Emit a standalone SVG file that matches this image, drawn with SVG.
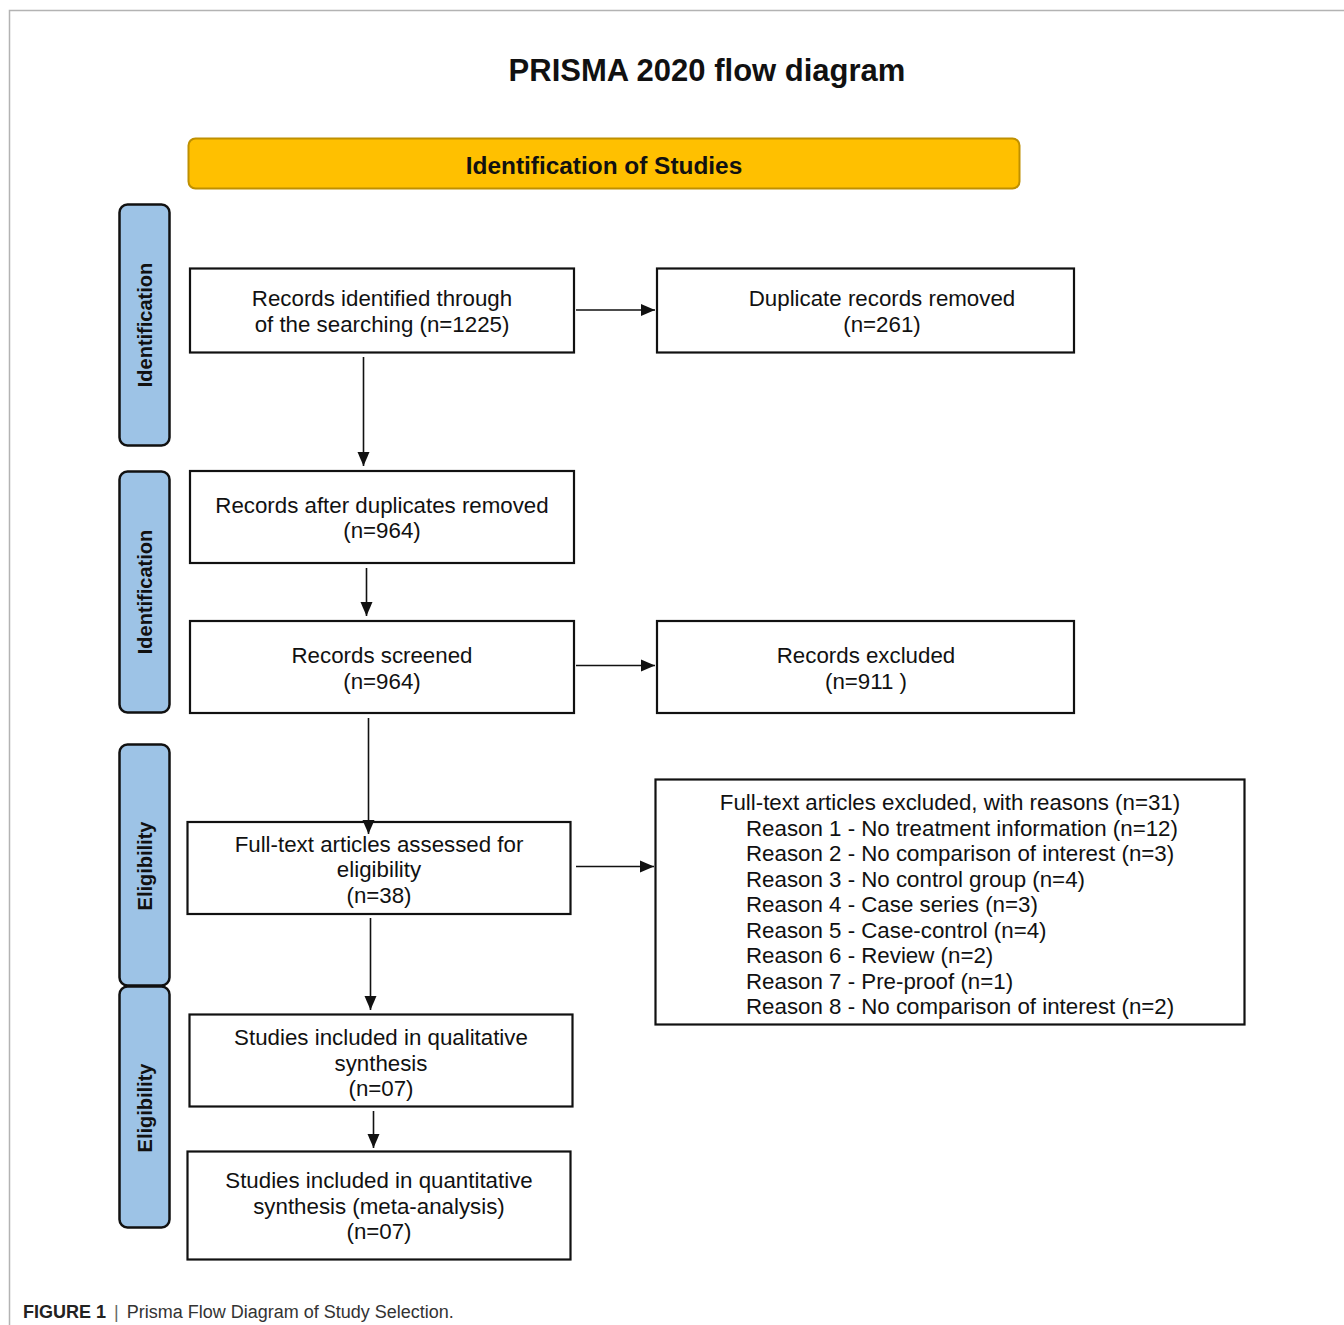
<svg xmlns="http://www.w3.org/2000/svg" width="1344" height="1325" viewBox="0 0 1344 1325">
<defs>
<style>
.frame{fill:none;stroke:#b3b3b3;stroke-width:1.5}
.box{fill:#fff;stroke:#111;stroke-width:2.2}
.side{fill:#9dc3e6;stroke:#111;stroke-width:2.5}
.hdr{fill:#ffc000;stroke:#bf9000;stroke-width:2}
.t{font-family:"Liberation Sans",Arial,sans-serif;font-size:22.3px;fill:#111;text-anchor:middle}
.tl{font-family:"Liberation Sans",Arial,sans-serif;font-size:22.3px;fill:#111}
.sl{font-family:"Liberation Sans",Arial,sans-serif;font-size:20px;font-weight:bold;fill:#111;text-anchor:middle}
.conn{fill:none;stroke:#111;stroke-width:1.6}
</style>
<marker id="ah" markerUnits="userSpaceOnUse" markerWidth="16" markerHeight="16" viewBox="0 0 16 16" refX="14" refY="8" orient="auto">
<path d="M0,2 L14,8 L0,14 Z" fill="#111"/>
</marker>
</defs>
<rect width="1344" height="1325" fill="#fff"/>
<path class="frame" d="M1344,10.5 H9.5 V1325"/>
<text x="707" y="81" font-family="Liberation Sans,Arial,sans-serif" font-size="31" font-weight="bold" text-anchor="middle" fill="#111">PRISMA 2020 flow diagram</text>
<g id="header">
<rect class="hdr" x="188.5" y="138.5" width="831" height="50" rx="7"/>
<text x="604" y="174" font-family="Liberation Sans,Arial,sans-serif" font-size="24.4" font-weight="bold" text-anchor="middle" fill="#111">Identification of Studies</text>
</g>
<g id="side1"><rect class="side" x="119.5" y="204.5" width="50" height="241" rx="8"/><text class="sl" transform="translate(152,325) rotate(-90)">Identification</text></g>
<g id="side2"><rect class="side" x="119.5" y="471.5" width="50" height="241" rx="8"/><text class="sl" transform="translate(152,592) rotate(-90)">Identification</text></g>
<g id="side3"><rect class="side" x="119.5" y="744.5" width="50" height="241" rx="8"/><text class="sl" transform="translate(152,866) rotate(-90)">Eligibility</text></g>
<g id="side4"><rect class="side" x="119.5" y="986.5" width="50" height="241" rx="8"/><text class="sl" transform="translate(152,1108) rotate(-90)">Eligibility</text></g>

<g id="n1"><rect class="box" x="190" y="268.5" width="384" height="84"/>
<text class="t" x="382" y="306">Records identified through</text>
<text class="t" x="382" y="332">of the searching (n=1225)</text></g>
<g id="n2"><rect class="box" x="657" y="268.5" width="417" height="84"/>
<text class="t" x="882" y="306">Duplicate records removed</text>
<text class="t" x="882" y="332">(n=261)</text></g>
<g id="n3"><rect class="box" x="190" y="471" width="384" height="92"/>
<text class="t" x="382" y="513">Records after duplicates removed</text>
<text class="t" x="382" y="538">(n=964)</text></g>
<g id="n4"><rect class="box" x="190" y="621" width="384" height="92"/>
<text class="t" x="382" y="663">Records screened</text>
<text class="t" x="382" y="689">(n=964)</text></g>
<g id="n5"><rect class="box" x="657" y="621" width="417" height="92"/>
<text class="t" x="866" y="663">Records excluded</text>
<text class="t" x="866" y="689">(n=911 )</text></g>
<g id="n6"><rect class="box" x="187.5" y="822" width="383" height="92"/>
<text class="t" x="379" y="852">Full-text articles assessed for</text>
<text class="t" x="379" y="877">eligibility</text>
<text class="t" x="379" y="903">(n=38)</text></g>
<g id="n7"><rect class="box" x="655.5" y="779.5" width="589" height="245"/>
<text class="t" x="950" y="810">Full-text articles excluded, with reasons (n=31)</text>
<text class="tl" x="746" y="835.5">Reason 1 - No treatment information (n=12)</text>
<text class="tl" x="746" y="861">Reason 2 - No comparison of interest (n=3)</text>
<text class="tl" x="746" y="886.5">Reason 3 - No control group (n=4)</text>
<text class="tl" x="746" y="912">Reason 4 - Case series (n=3)</text>
<text class="tl" x="746" y="937.5">Reason 5 - Case-control (n=4)</text>
<text class="tl" x="746" y="963">Reason 6 - Review (n=2)</text>
<text class="tl" x="746" y="988.5">Reason 7 - Pre-proof (n=1)</text>
<text class="tl" x="746" y="1014">Reason 8 - No comparison of interest (n=2)</text></g>
<g id="n8"><rect class="box" x="189.5" y="1014.5" width="383" height="92"/>
<text class="t" x="381" y="1045">Studies included in qualitative</text>
<text class="t" x="381" y="1071">synthesis</text>
<text class="t" x="381" y="1096">(n=07)</text></g>
<g id="n9"><rect class="box" x="187.5" y="1151.5" width="383" height="108"/>
<text class="t" x="379" y="1188">Studies included in quantitative</text>
<text class="t" x="379" y="1214">synthesis (meta-analysis)</text>
<text class="t" x="379" y="1239">(n=07)</text></g>

<g id="connectors">
<line class="conn" x1="576" y1="310" x2="655" y2="310" marker-end="url(#ah)"/>
<line class="conn" x1="363.5" y1="357" x2="363.5" y2="466" marker-end="url(#ah)"/>
<line class="conn" x1="366.5" y1="568" x2="366.5" y2="616" marker-end="url(#ah)"/>
<line class="conn" x1="576" y1="665.5" x2="655" y2="665.5" marker-end="url(#ah)"/>
<line class="conn" x1="368.5" y1="718" x2="368.5" y2="834" marker-end="url(#ah)"/>
<line class="conn" x1="576" y1="866.5" x2="654" y2="866.5" marker-end="url(#ah)"/>
<line class="conn" x1="370.5" y1="918" x2="370.5" y2="1010" marker-end="url(#ah)"/>
<line class="conn" x1="373.5" y1="1111" x2="373.5" y2="1148" marker-end="url(#ah)"/>
</g>

<text x="23" y="1318" font-family="Liberation Sans,Arial,sans-serif" font-size="18" fill="#222"><tspan font-weight="bold">FIGURE 1</tspan><tspan fill="#666" dx="8">|</tspan><tspan dx="8" fill="#333">Prisma Flow Diagram of Study Selection.</tspan></text>
</svg>
